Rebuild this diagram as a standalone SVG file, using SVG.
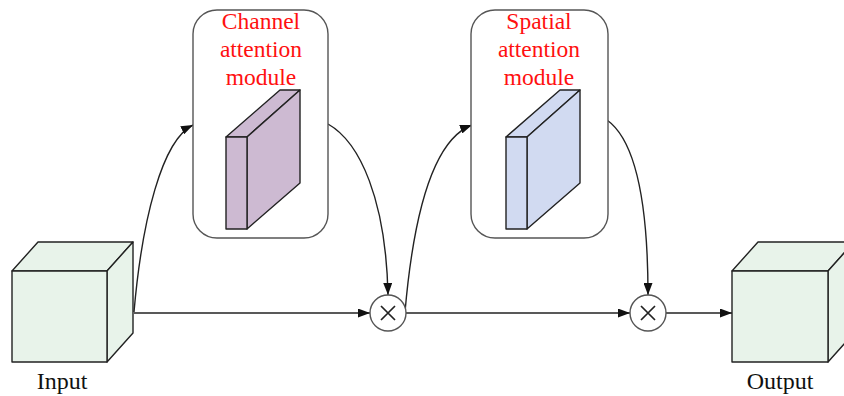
<svg xmlns="http://www.w3.org/2000/svg" width="844" height="396" viewBox="0 0 844 396">
  <style>
    .edge { fill: none; stroke: #222; stroke-width: 1.4; }
    .cube { fill: #e8f3ea; stroke: #222; stroke-width: 1.4; stroke-linejoin: round; }
    .box { fill: #fff; stroke: #555; stroke-width: 1.4; }
    .slab-c { fill: #cdbad2; stroke: #222; stroke-width: 1.4; stroke-linejoin: round; }
    .slab-s { fill: #d1daf1; stroke: #222; stroke-width: 1.4; stroke-linejoin: round; }
    .mul { fill: #fff; stroke: #555; stroke-width: 1.4; }
    .title { font-family: "Liberation Serif", "Times New Roman", serif; font-size: 23.5px; fill: #ff1010; text-anchor: middle; }
    .label { font-family: "Liberation Serif", "Times New Roman", serif; font-size: 24px; fill: #111; text-anchor: middle; }
    .x { stroke: #222; stroke-width: 1.7; }
  </style>
  <defs>
    <marker id="arrow" viewBox="0 0 12 9" refX="12" refY="4.5" markerWidth="12" markerHeight="9" markerUnits="userSpaceOnUse" orient="auto">
      <path d="M0,0 L12,4.5 L0,9 Z" fill="#111"/>
    </marker>
  </defs>

  <rect width="844" height="396" fill="#fff"/>

  <!-- connectors -->
  <g id="connectors">
    <path class="edge" d="M134,313 L370,313" marker-end="url(#arrow)"/>
    <path class="edge" d="M406,313 L630,313" marker-end="url(#arrow)"/>
    <path class="edge" d="M666,313 L732,313" marker-end="url(#arrow)"/>
    <path class="edge" d="M134,312 C142,220 162,140 193,125" marker-end="url(#arrow)"/>
    <path class="edge" d="M328,124 C360,142 386,200 388,295" marker-end="url(#arrow)"/>
    <path class="edge" d="M405,312 C413,220 432,140 472,125" marker-end="url(#arrow)"/>
    <path class="edge" d="M607,120 C635,140 648,200 648,295" marker-end="url(#arrow)"/>
  </g>

  <!-- input tensor -->
  <g id="input">
    <path class="cube" d="M12,271 L38,242 L133,242 L107,271 Z"/>
    <path class="cube" d="M107,271 L133,242 L133,333 L107,362 Z"/>
    <rect class="cube" x="12" y="271" width="95" height="91"/>
    <text class="label" x="62" y="389">Input</text>
  </g>

  <!-- channel attention module -->
  <g id="channel-attention">
    <rect class="box" x="193" y="10" width="135" height="228" rx="24"/>
    <text class="title" x="261" y="29">Channel</text>
    <text class="title" x="261" y="57">attention</text>
    <text class="title" x="261" y="85">module</text>
    <path class="slab-c" d="M226,137 L280,90 L300,90 L247,137 Z"/>
    <path class="slab-c" d="M247,137 L300,90 L300,183 L247,229 Z"/>
    <rect class="slab-c" x="226" y="137" width="21" height="92"/>
  </g>

  <!-- spatial attention module -->
  <g id="spatial-attention">
    <rect class="box" x="471" y="10" width="137" height="228" rx="24"/>
    <text class="title" x="539" y="29">Spatial</text>
    <text class="title" x="539" y="57">attention</text>
    <text class="title" x="539" y="85">module</text>
    <path class="slab-s" d="M506,137 L560,90 L580,90 L527,137 Z"/>
    <path class="slab-s" d="M527,137 L580,90 L580,183 L527,229 Z"/>
    <rect class="slab-s" x="506" y="137" width="21" height="92"/>
  </g>

  <!-- element-wise products -->
  <g id="mul-1">
    <circle class="mul" cx="388" cy="313" r="18"/>
    <path class="x" d="M381,306 L395,320 M395,306 L381,320"/>
  </g>
  <g id="mul-2">
    <circle class="mul" cx="648" cy="313" r="18"/>
    <path class="x" d="M641,306 L655,320 M655,306 L641,320"/>
  </g>

  <!-- output tensor -->
  <g id="output">
    <path class="cube" d="M732,271 L758,242 L854,242 L828,271 Z"/>
    <path class="cube" d="M828,271 L854,242 L854,333 L828,362 Z"/>
    <rect class="cube" x="732" y="271" width="96" height="91"/>
    <text class="label" x="780" y="389">Output</text>
  </g>
</svg>
